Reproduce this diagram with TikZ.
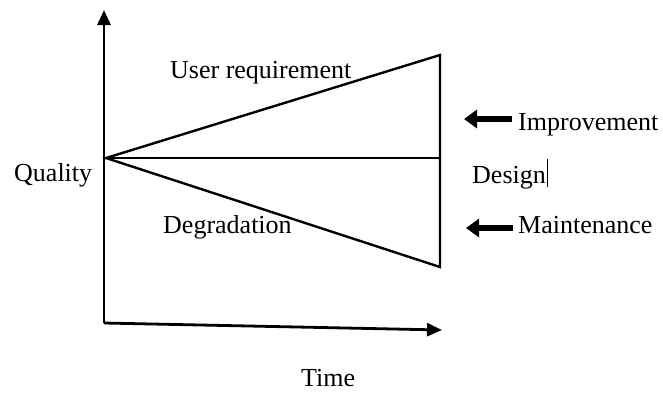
\documentclass[tikz,border=0pt]{standalone}
\usepackage{fontspec}
\setmainfont{Liberation Serif}
\usetikzlibrary{arrows.meta}
\tikzset{
  axis/.style={line width=2.8pt,-{Triangle[length=15pt,width=13pt]}},
  edge/.style={line width=2.4pt},
  lbl/.style={inner sep=0pt,anchor=base west,font=\fontsize{26}{30}\selectfont},
  bigarrow/.style={line width=6pt,-{Triangle[length=13pt,width=18pt]}}
}
\begin{document}
\begin{tikzpicture}[x=1pt,y=-1pt]
\useasboundingbox (0,0) rectangle (663,392);
\coordinate (O) at (104,323);
\coordinate (Ytop) at (104,10);
\coordinate (Xend) at (442,330);
\coordinate (A) at (106,158);
\coordinate (T) at (440,55);
\coordinate (M) at (440,158);
\coordinate (B) at (440,267);
\draw[axis] (O) -- (Ytop);
\draw[axis] (O) -- (Xend);
\draw[edge] (A) -- (T) -- (B) -- cycle;
\draw[edge] (A) -- (M);
\node[lbl] (quality) at (14,181) {Quality};
\node[lbl] (userreq) at (170,78) {User requirement};
\node[lbl] (degr) at (163,233) {Degradation};
\node[lbl] (design) at (472,183) {Design\kern1pt\rule[-4pt]{1.2pt}{28pt}};
\node[lbl] (improv) at (518,130) {Improvement};
\node[lbl] (maint) at (518,233) {Maintenance};
\node[lbl] (time) at (301,386) {Time};
\coordinate (i1) at (512,119);
\coordinate (i2) at (464,119);
\coordinate (m1) at (513,228);
\coordinate (m2) at (466,228);
\draw[bigarrow] (i1) -- (i2);
\draw[bigarrow] (m1) -- (m2);
\end{tikzpicture}
\end{document}
